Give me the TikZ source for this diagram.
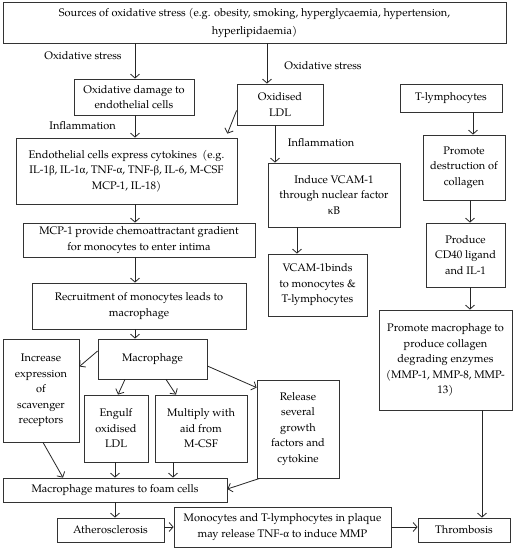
\documentclass[tikz,border=0pt]{standalone}
\usepackage{fontspec}
\setmainfont{TeX Gyre Pagella}
\newfontfamily\grk{Liberation Serif}
\usetikzlibrary{arrows.meta,calc}
\newcommand{\gb}{{\grk β}}
\newcommand{\ga}{{\grk α}}
\newcommand{\gk}{{\grk κ}}
\begin{document}
\begin{tikzpicture}[x=1pt,y=-1pt,
  bx/.style={draw=black!80, line width=0.8pt, align=center, inner sep=1pt, font=\fontsize{11}{15.5}\selectfont},
  arr/.style={draw=black!85, line width=0.8pt, -{Straight Barb[length=4pt,width=9pt]}},
  lbl/.style={font=\fontsize{11}{15.5}\selectfont, inner sep=0pt}]
\useasboundingbox (0,0) rectangle (524,550);
\fill[white] (0,0) rectangle (524,550);

\node[bx, minimum width=503pt, minimum height=41pt, font=\fontsize{11}{18}\selectfont] (top) at (254.5,22.5) {Sources of oxidative stress (e.g. obesity, smoking, hyperglycaemia, hypertension,\\ hyperlipidaemia)};
\node[bx, minimum width=120pt, minimum height=36pt] (dam) at (134,97) {Oxidative damage to\\ endothelial cells};
\node[bx, minimum width=86pt, minimum height=41pt] (oldl) at (280,104.5) {Oxidised\\ LDL};
\node[bx, minimum width=102pt, minimum height=28pt] (tly) at (451,98) {T-lymphocytes};
\node[bx, minimum width=221pt, minimum height=66pt] (endo) at (126.5,171) {Endothelial cells express cytokines~ (e.g.\\ IL-1\gb, IL-1\ga, TNF-\ga, TNF-\gb, IL-6, M-CSF\\ MCP-1, IL-18)};
\node[bx, minimum width=132pt, minimum height=64pt] (vcam) at (334,195) {Induce VCAM-1\\ through nuclear factor\\ \gk B};
\node[bx, minimum width=82pt, minimum height=65pt] (pdes) at (464,167.5) {Promote\\ destruction of\\ collagen};
\node[bx, minimum width=232pt, minimum height=34pt] (mcp) at (139,240) {MCP-1 provide chemoattractant gradient\\ for monocytes to enter intima};
\node[bx, minimum width=99pt, minimum height=62pt] (vbind) at (317.5,285) {VCAM-1binds\\ to monocytes \&\\ T-lymphocytes};
\node[bx, minimum width=79pt, minimum height=64pt] (cd40) at (465.5,255) {Produce\\ CD40 ligand\\ and IL-1};
\node[bx, minimum width=214pt, minimum height=46pt] (rec) at (139,306) {Recruitment of monocytes leads to\\ macrophage};
\node[bx, minimum width=133pt, minimum height=100pt] (promm) at (445.5,360) {Promote macrophage to\\ produce collagen\\ degrading enzymes\\ (MMP-1, MMP-8, MMP-\\ 13)};
\node[bx, minimum width=109pt, minimum height=40pt] (mac) at (152.5,359) {Macrophage};
\node[bx, minimum width=76pt, minimum height=103pt] (inc) at (41,390.5) {Increase\\ expression\\ of\\ scavenger\\ receptors};
\node[bx, minimum width=64pt, minimum height=67pt] (eng) at (116,428.5) {Engulf\\ oxidised\\ LDL};
\node[bx, minimum width=92pt, minimum height=67pt] (mult) at (201,428.5) {Multiply with\\ aid from\\ M-CSF};
\node[bx, minimum width=82pt, minimum height=98pt] (rel) at (298,429) {Release\\ several\\ growth\\ factors and\\ cytokine};
\node[bx, minimum width=224pt, minimum height=24pt] (mat) at (115,490) {Macrophage matures to foam cells};
\node[bx, minimum width=107pt, minimum height=24pt] (ath) at (110.5,530) {Atherosclerosis};
\node[bx, minimum width=217pt, minimum height=40pt] (mono) at (282.5,527) {Monocytes and T-lymphocytes in plaque\\ may release TNF-\ga{} to induce MMP};
\node[bx, minimum width=92pt, minimum height=24pt] (thr) at (464,530) {Thrombosis};

\node[lbl] (l1) at (83,56) {Oxidative stress};
\node[lbl] (l2) at (323,66) {Oxidative stress};
\node[lbl] (l3) at (82.5,126) {Inflammation};
\node[lbl] (l4) at (321,143) {Inflammation};

% helper coordinates
\coordinate (cA) at (135,0);
\coordinate (cB) at (267,0);
\coordinate (cC) at (275,0);
\coordinate (cD) at (297,0);
\coordinate (cE) at (473,0);
\coordinate (cF) at (470,0);
\coordinate (cG) at (482,0);
\coordinate (cH) at (115,0);
\coordinate (cI) at (173,0);
\coordinate (cY) at (0,527);

\draw[arr] (cA |- top.south) -- (cA |- dam.north);
\draw[arr] (cB |- top.south) -- (cB |- oldl.north);
\draw[arr] (cA |- dam.south) -- (cA |- endo.north);
\draw[arr] ([yshift=-6pt]oldl.west) -- ([xshift=-10pt,yshift=4pt]endo.north east);
\draw[arr] (cC |- oldl.south) -- (cC |- vcam.north);
\draw[arr] (cD |- vcam.south) -- (cD |- vbind.north);
\draw[arr] (cA |- endo.south) -- (cA |- mcp.north);
\draw[arr] (cA |- mcp.south) -- (cA |- rec.north);
\draw[arr] (cA |- rec.south) -- (cA |- mac.north);
\draw[arr] (cE |- tly.south) -- (cE |- pdes.north);
\draw[arr] (cF |- pdes.south) -- (cF |- cd40.north);
\draw[arr] (cF |- cd40.south) -- (cF |- promm.north);
\draw[arr] (cG |- promm.south) -- (cG |- thr.north);

\draw[arr] ([yshift=8pt]mac.west) -- ([yshift=24pt]inc.east);
\draw[arr] ([xshift=-27.5pt]mac.south) -- ([xshift=2pt]eng.north);
\draw[arr] ([xshift=13.5pt]mac.south) -- ([xshift=-25pt]mult.north);
\draw[arr] ([yshift=-7pt]mac.east) -- ([yshift=-8pt]rel.north west);
\draw[arr] ([xshift=2pt]inc.south) -- ([xshift=-52pt]mat.north);
\draw[arr] (cH |- eng.south) -- (cH |- mat.north);
\draw[arr] (cI |- mult.south) -- (cI |- mat.north);
\draw[arr] ([xshift=3pt]rel.south west) -- ([yshift=1pt]mat.east);
\draw[arr] (cH |- mat.south) -- (cH |- ath.north);
\draw[arr] (cY -| ath.east) -- (cY -| mono.west);
\draw[arr] (cY -| mono.east) -- (cY -| thr.west);
\end{tikzpicture}
\end{document}
